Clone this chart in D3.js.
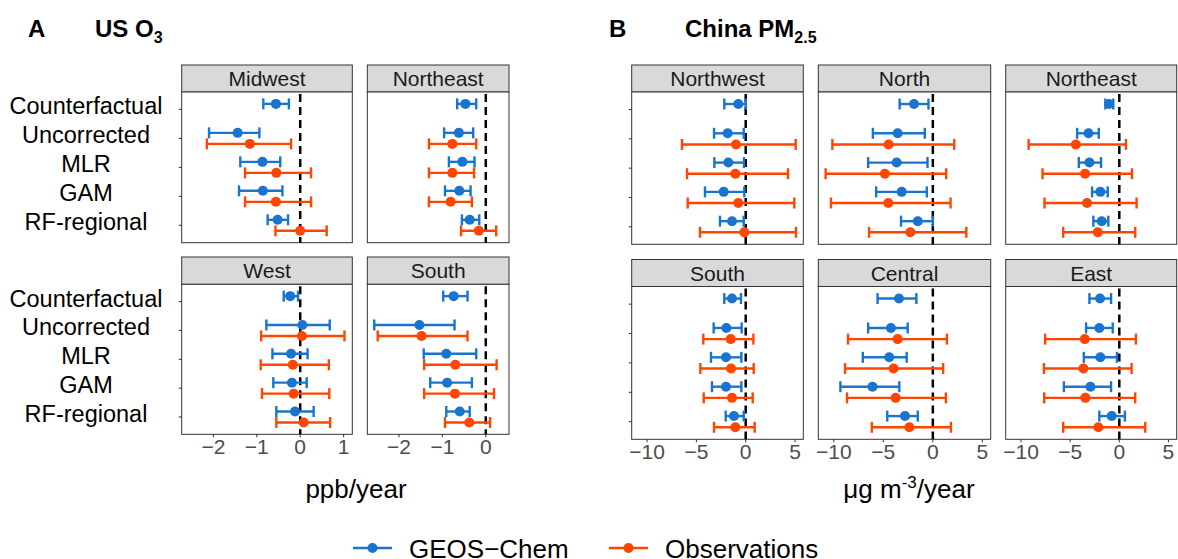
<!DOCTYPE html>
<html>
<head>
<meta charset="utf-8">
<script src="https://cdn.jsdelivr.net/npm/d3@7"></script>
<style>
  body { margin: 0; background: #fff; }
  text { font-family: "Liberation Sans", Arial, Helvetica, sans-serif; }
</style>
</head>
<body>
<svg id="chart"></svg>
<script>
// methods on the y axis (top to bottom)
const methods = ["Counterfactual", "Uncorrected", "MLR", "GAM", "RF-regional"];
const usRegions = ["Midwest", "Northeast", "West", "South"];
const chinaRegions = ["Northwest", "North", "Northeast", "South", "Central", "East"];
const usTicks = [-2, -1, 0, 1];
const chinaTicks = [-10, -5, 0, 5];

// each row: [estimate, lower, upper]; null = no value
const usMidwestModel = [[-0.56, -0.85, -0.26], [-1.44, -2.10, -0.94], [-0.87, -1.38, -0.46], [-0.86, -1.41, -0.41], [-0.52, -0.75, -0.28]];
const usMidwestObs = [null, [-1.16, -2.15, -0.21], [-0.55, -1.27, 0.25], [-0.56, -1.27, 0.25], [0.00, -0.57, 0.61]];
const usNortheastModel = [[-0.47, -0.66, -0.22], [-0.62, -0.96, -0.29], [-0.54, -0.85, -0.26], [-0.61, -0.94, -0.35], [-0.37, -0.55, -0.15]];
const usNortheastObs = [null, [-0.77, -1.31, -0.22], [-0.77, -1.31, -0.27], [-0.81, -1.31, -0.32], [-0.16, -0.57, 0.24]];
const usWestModel = [[-0.23, -0.38, -0.05], [0.05, -0.78, 0.68], [-0.21, -0.64, 0.17], [-0.19, -0.62, 0.15], [-0.12, -0.55, 0.31]];
const usWestObs = [null, [0.04, -0.90, 1.02], [-0.17, -0.91, 0.66], [-0.15, -0.88, 0.67], [0.08, -0.55, 0.69]];
const usSouthModel = [[-0.74, -0.98, -0.42], [-1.53, -2.57, -0.72], [-0.91, -1.43, -0.22], [-0.89, -1.28, -0.32], [-0.60, -0.91, -0.37]];
const usSouthObs = [null, [-1.48, -2.49, -0.42], [-0.70, -1.42, 0.25], [-0.71, -1.42, 0.19], [-0.38, -0.94, 0.10]];

const cnNorthwestModel = [[-0.75, -2.17, 0.00], [-1.83, -3.21, -0.20], [-1.76, -3.18, -0.17], [-2.23, -4.13, -0.14], [-1.39, -2.61, -0.20]];
const cnNorthwestObs = [null, [-0.98, -6.46, 5.07], [-1.05, -5.95, 4.29], [-0.75, -5.88, 4.93], [-0.14, -4.64, 5.10]];
const cnNorthModel = [[-1.90, -3.35, -0.44], [-3.55, -6.05, -0.81], [-3.65, -6.53, -0.54], [-3.14, -5.72, -0.61], [-1.52, -3.21, 0.00]];
const cnNorthObs = [null, [-4.46, -10.14, 2.16], [-4.84, -10.82, 1.35], [-4.50, -10.28, 1.79], [-2.27, -6.43, 3.38]];
const cnNortheastModel = [[-1.04, -1.42, -0.61], [-3.14, -4.29, -2.09], [-3.04, -4.12, -1.86], [-1.93, -2.77, -1.18], [-1.79, -2.64, -1.12]];
const cnNortheastObs = [null, [-4.42, -9.23, 0.68], [-3.48, -7.81, 1.29], [-3.28, -7.61, 1.76], [-2.19, -5.71, 1.62]];
const cnSouthModel = [[-1.39, -2.17, -0.48], [-1.96, -3.25, -0.41], [-2.00, -3.52, -0.44], [-2.00, -3.42, -0.44], [-1.19, -2.03, -0.20]];
const cnSouthObs = [null, [-1.52, -4.30, 0.78], [-1.49, -4.60, 0.81], [-1.39, -4.26, 0.71], [-1.05, -3.21, 0.91]];
const cnCentralModel = [[-3.42, -5.58, -1.66], [-4.23, -6.53, -2.54], [-4.40, -7.07, -2.64], [-6.09, -9.33, -3.38], [-2.81, -4.60, -1.52]];
const cnCentralObs = [null, [-3.55, -8.56, 1.42], [-3.96, -8.86, 1.04], [-3.75, -8.66, 1.32], [-2.37, -6.16, 1.83]];
const cnEastModel = [[-1.96, -3.04, -0.84], [-2.03, -3.38, -0.67], [-1.93, -3.61, -0.24], [-2.94, -5.64, -0.84], [-0.77, -2.03, 0.57]];
const cnEastObs = [null, [-3.51, -7.54, 1.69], [-3.65, -7.67, 1.25], [-3.45, -7.64, 1.62], [-2.13, -5.71, 2.64]];

const W = 1178, H = 559;
const BLUE = "#1874CD", RED = "#FF4500";
const svg = d3.select("#chart").attr("width", W).attr("height", H);

function drawPanel(p) {
    const g = svg.append("g");
    const x = d3.scaleLinear().domain(p.domain).range([p.x0, p.x1]);
    const y = d3.scalePoint().domain(methods).range([p.y0, p.y1]).padding(0.6);
    const off = y.step() * 0.19;

    // strip
    g.append("rect")
        .attr("x", p.x0).attr("y", p.sy).attr("width", p.x1 - p.x0).attr("height", p.y0 - p.sy)
        .attr("fill", "#d9d9d9").attr("stroke", "#333").attr("stroke-width", 1);
    g.append("text")
        .attr("x", (p.x0 + p.x1) / 2).attr("y", (p.sy + p.y0) / 2 + 7.5)
        .attr("text-anchor", "middle").attr("font-size", 21).attr("fill", "#1a1a1a")
        .text(p.name);

    // panel
    g.append("rect")
        .attr("x", p.x0).attr("y", p.y0).attr("width", p.x1 - p.x0).attr("height", p.y1 - p.y0)
        .attr("fill", "#fff").attr("stroke", "#333").attr("stroke-width", 1);

    // zero line
    g.append("line")
        .attr("x1", x(0)).attr("x2", x(0)).attr("y1", p.y0 + 2).attr("y2", p.y1)
        .attr("stroke", "#000").attr("stroke-width", 2.5).attr("stroke-dasharray", "8,5");

    const series = [
        { vals: p.model, color: BLUE, dy: -off },
        { vals: p.obs, color: RED, dy: off }
    ];
    series.forEach(s => {
        const rows = methods.map((m, i) => ({ m, v: s.vals[i] })).filter(d => d.v);
        const eg = g.append("g").selectAll("g").data(rows).join("g")
            .attr("transform", d => `translate(0,${y(d.m) + s.dy})`);
        eg.append("line")
            .attr("x1", d => x(d.v[1])).attr("x2", d => x(d.v[2]))
            .attr("stroke", s.color).attr("stroke-width", 2.4);
        eg.selectAll(".cap").data(d => [d.v[1], d.v[2]]).join("line")
            .attr("x1", v => x(v)).attr("x2", v => x(v)).attr("y1", -5.5).attr("y2", 5.5)
            .attr("stroke", s.color).attr("stroke-width", 2.4);
        eg.append("circle")
            .attr("cx", d => x(d.v[0])).attr("r", 5).attr("fill", s.color);
    });

    // y ticks (first column only)
    if (p.yTicks) {
        g.selectAll(".yt").data(methods).join("line")
            .attr("x1", p.x0 - 3).attr("x2", p.x0).attr("y1", d => y(d)).attr("y2", d => y(d))
            .attr("stroke", "#333").attr("stroke-width", 1);
        if (p.yLabels) {
            g.selectAll(".yl").data(methods).join("text")
                .attr("x", p.labelX).attr("y", d => y(d) + 5)
                .attr("text-anchor", "middle").attr("font-size", 23.5).attr("fill", "#000")
                .text(d => d);
        }
    }

    // x axis (bottom row only)
    if (p.xTicks) {
        const ticks = p.xTicks.filter(t => t >= p.domain[0] && t <= p.domain[1]);
        g.selectAll(".xt").data(ticks).join("line")
            .attr("x1", d => x(d)).attr("x2", d => x(d)).attr("y1", p.y1).attr("y2", p.y1 + 3)
            .attr("stroke", "#333").attr("stroke-width", 1);
        g.selectAll(".xl").data(ticks).join("text")
            .attr("x", d => x(d)).attr("y", p.y1 + 20)
            .attr("text-anchor", "middle").attr("font-size", 21).attr("fill", "#4d4d4d")
            .text(d => d3.format("")(d).replace("-", "\u2212"));
    }
}

// US panels (2 x 2, right column narrower)
const usData = {
    Midwest: [usMidwestModel, usMidwestObs], Northeast: [usNortheastModel, usNortheastObs],
    West: [usWestModel, usWestObs], South: [usSouthModel, usSouthObs]
};
const usCols = [{ x0: 181.7, x1: 352.3, domain: [-2.73, 1.2] }, { x0: 367.3, x1: 509, domain: [-2.73, 0.535] }];
const usRows = [{ sy: 65, y0: 92, y1: 242.7 }, { sy: 257, y0: 284.3, y1: 434.3 }];
usRegions.forEach((r, i) => {
    const c = usCols[i % 2], row = usRows[Math.floor(i / 2)];
    drawPanel(Object.assign({ name: r, model: usData[r][0], obs: usData[r][1],
        yTicks: i % 2 === 0, yLabels: true, labelX: 86,
        xTicks: i >= 2 ? usTicks : null }, c, row));
});

// China panels (2 x 3)
const cnData = {
    Northwest: [cnNorthwestModel, cnNorthwestObs], North: [cnNorthModel, cnNorthObs],
    Northeast: [cnNortheastModel, cnNortheastObs], South: [cnSouthModel, cnSouthObs],
    Central: [cnCentralModel, cnCentralObs], East: [cnEastModel, cnEastObs]
};
const cnCols = [{ x0: 631.7, x1: 803.3 }, { x0: 818.3, x1: 990.7 }, { x0: 1005.7, x1: 1176.7 }];
const cnRows = [{ sy: 65, y0: 92, y1: 244.3 }, { sy: 259.5, y0: 286.5, y1: 439.3 }];
chinaRegions.forEach((r, i) => {
    const c = cnCols[i % 3], row = cnRows[Math.floor(i / 3)];
    drawPanel(Object.assign({ name: r, model: cnData[r][0], obs: cnData[r][1], domain: [-11.56, 5.84],
        yTicks: i % 3 === 0, yLabels: false,
        xTicks: i >= 3 ? chinaTicks : null }, c, row));
});

// headings
svg.append("text").attr("x", 28).attr("y", 37).attr("font-size", 24).attr("font-weight", "bold").text("A");
const t1 = svg.append("text").attr("x", 95).attr("y", 37).attr("font-size", 24).attr("font-weight", "bold");
t1.append("tspan").text("US O");
t1.append("tspan").attr("font-size", 16).attr("dy", 6).text("3");
svg.append("text").attr("x", 609).attr("y", 37).attr("font-size", 24).attr("font-weight", "bold").text("B");
const t2 = svg.append("text").attr("x", 685).attr("y", 37).attr("font-size", 24).attr("font-weight", "bold");
t2.append("tspan").text("China PM");
t2.append("tspan").attr("font-size", 16).attr("dy", 6).text("2.5");

// axis titles
svg.append("text").attr("x", 356).attr("y", 498).attr("text-anchor", "middle").attr("font-size", 26).text("ppb/year");
const t3 = svg.append("text").attr("x", 909).attr("y", 498).attr("text-anchor", "middle").attr("font-size", 26);
t3.append("tspan").text("\u03bcg m");
t3.append("tspan").attr("font-size", 17).attr("dy", -10).text("-3");
t3.append("tspan").attr("dy", 10).text("/year");

// legend (cut by the bottom edge, as in the source figure)
const legend = [{ label: "GEOS\u2212Chem", color: BLUE, x: 353 }, { label: "Observations", color: RED, x: 609 }];
const lg = svg.append("g").selectAll("g").data(legend).join("g")
    .attr("transform", d => `translate(${d.x},548)`);
lg.append("line").attr("x1", 0).attr("x2", 39).attr("stroke", d => d.color).attr("stroke-width", 2.4);
lg.append("circle").attr("cx", 19.5).attr("r", 5).attr("fill", d => d.color);
lg.append("text").attr("x", 56).attr("y", 9.5).attr("font-size", 26).text(d => d.label);
</script>
</body>
</html>
